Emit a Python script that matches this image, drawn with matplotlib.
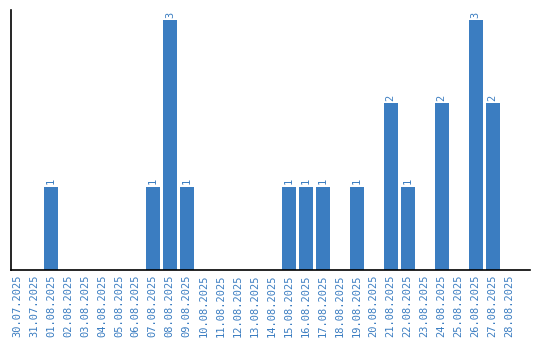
import matplotlib
matplotlib.use("Agg")
import matplotlib.pyplot as plt

# dates and counts
dates = ['30.07.2025', '31.07.2025', '01.08.2025', '02.08.2025', '03.08.2025',
         '04.08.2025', '05.08.2025', '06.08.2025', '07.08.2025', '08.08.2025',
         '09.08.2025', '10.08.2025', '11.08.2025', '12.08.2025', '13.08.2025',
         '14.08.2025', '15.08.2025', '16.08.2025', '17.08.2025', '18.08.2025',
         '19.08.2025', '20.08.2025', '21.08.2025', '22.08.2025', '23.08.2025',
         '24.08.2025', '25.08.2025', '26.08.2025', '27.08.2025', '28.08.2025']
counts = [0, 0, 1, 0, 0, 0, 0, 0, 1, 3,
          1, 0, 0, 0, 0, 0, 1, 1, 1, 0,
          1, 0, 2, 1, 0, 2, 0, 3, 2, 0]

blue = '#3b7dc1'
mono = 'DejaVu Sans Mono'

fig = plt.figure(figsize=(5.4, 3.4), dpi=100)
ax = fig.add_axes([11/540, 70/340, 519/540, 260/340])

x = list(range(len(dates)))
ax.bar(x, counts, width=0.82, color=blue)

# value labels above non-empty bars
for i, c in zip(x, counts):
    if c > 0:
        ax.text(i, c + 0.03, str(c), rotation=90, ha='center', va='bottom',
                color=blue, fontsize=7.5, family=mono)

ax.set_xlim(-0.35, 30.2)
ax.set_ylim(0, 3.12)
ax.set_xticks(x)
ax.set_xticklabels(dates, rotation=90, color=blue, fontsize=7.5, family=mono)
ax.tick_params(axis='x', length=0, pad=3)
ax.set_yticks([])

ax.spines['top'].set_visible(False)
ax.spines['right'].set_visible(False)
ax.spines['left'].set_linewidth(1.2)
ax.spines['bottom'].set_linewidth(1.2)

fig.savefig('out.png', dpi=100)
